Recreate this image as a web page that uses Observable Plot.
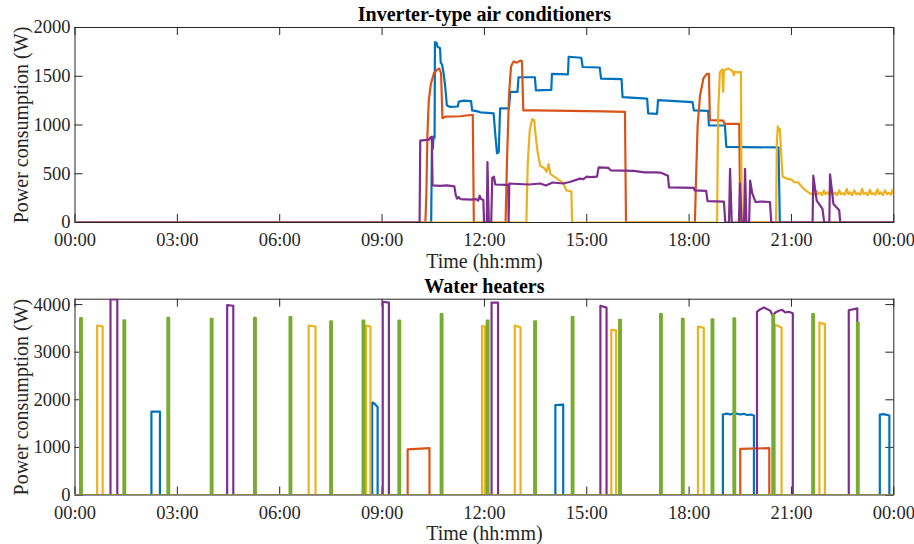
<!DOCTYPE html>
<html><head><meta charset="utf-8">
<script src="https://cdn.jsdelivr.net/npm/d3@7"></script>
<script src="https://cdn.jsdelivr.net/npm/@observablehq/plot@0.6"></script>
<style>
html,body{margin:0;padding:0;background:#fff;}
#chart svg{display:block;}
</style></head><body><div id="chart"></div>
<script>
// ---------- data ----------
const xTicks = [0, 3, 6, 9, 12, 15, 18, 21, 24];
const xTickLabels = ["00:00","03:00","06:00","09:00","12:00","15:00","18:00","21:00","00:00"];
const acTicks = [0, 500, 1000, 1500, 2000];
const whTicks = [0, 1000, 2000, 3000, 4000];
const seriesColors = ["#0072BD", "#D95319", "#EDB120", "#7E2F8E", "#77AC30"];
const titles = ["Inverter-type air conditioners", "Water heaters"];
const xLabel = "Time (hh:mm)";
const yLabel = "Power consumption (W)";

// Air conditioners: [hour, W]
const ac1 = [[0,0],[10.44,0],[10.46,750],[10.49,760],[10.51,880],[10.54,870],[10.55,1849],[10.60,1840],[10.63,1800],[10.70,1790],[10.72,1640],[10.76,1620],[10.80,1540],[10.85,1400],[10.90,1200],[11.0,1185],[11.22,1190],[11.25,1240],[11.40,1250],[11.61,1245],[11.64,1150],[11.8,1140],[11.88,1130],[12.1,1125],[12.27,1120],[12.32,900],[12.37,710],[12.42,720],[12.46,1170],[12.72,1170],[12.76,1340],[12.97,1340],[13.0,1490],[13.48,1490],[13.51,1355],[13.96,1360],[13.98,1525],[14.45,1520],[14.47,1700],[14.84,1690],[14.88,1595],[15.38,1590],[15.42,1475],[16.02,1470],[16.05,1285],[16.77,1270],[16.80,1120],[17.06,1115],[17.09,1255],[18.1,1235],[18.14,1150],[18.56,1145],[18.58,995],[19.05,995],[19.09,775],[20.62,770],[20.66,0],[24,0]];
const ac2 = [[0,0],[10.27,0],[10.30,300],[10.33,900],[10.37,1250],[10.43,1420],[10.52,1530],[10.62,1570],[10.68,1578],[10.73,1530],[10.77,1070],[10.85,1085],[11.3,1090],[11.66,1105],[11.69,0],[12.62,0],[12.66,600],[12.72,1300],[12.78,1600],[12.85,1650],[12.95,1640],[13.05,1660],[13.10,1655],[13.14,1150],[13.5,1150],[14.5,1145],[15.5,1140],[16.12,1135],[16.15,0],[18.17,0],[18.20,400],[18.25,1000],[18.32,1300],[18.42,1480],[18.52,1525],[18.58,1525],[18.61,1050],[19.0,1045],[19.04,1012],[19.47,1012],[19.50,0],[24,0]];
const ac3 = [[0,0],[13.23,0],[13.27,600],[13.33,950],[13.40,1060],[13.46,1050],[13.50,900],[13.56,720],[13.64,580],[13.75,560],[13.82,520],[13.88,600],[13.93,500],[14.0,480],[14.13,450],[14.25,420],[14.32,400],[14.40,330],[14.50,320],[14.55,320],[14.57,0],[18.82,0],[18.85,1100],[18.90,1540],[18.97,1570],[19.0,1340],[19.02,1560],[19.15,1580],[19.28,1550],[19.31,1510],[19.34,1545],[19.45,1540],[19.52,1545],[19.54,0],[20.55,0],[20.57,800],[20.60,985],[20.63,940],[20.66,960],[20.70,700],[20.74,470],[20.87,450],[21.0,440],[21.07,415],[21.2,410],[21.36,345],[21.5,310],[21.56,294],[21.62,300],[21.68,285],[21.74,320],[21.78,290],[21.84,305],[21.9,280],[21.95,330],[22.0,290],[22.06,310],[22.12,285],[22.17,340],[22.22,290],[22.28,305],[22.34,280],[22.4,330],[22.45,290],[22.5,300],[22.56,285],[22.62,345],[22.67,290],[22.72,310],[22.78,280],[22.84,330],[22.9,290],[22.96,300],[23.02,285],[23.07,345],[23.12,290],[23.18,305],[23.24,280],[23.3,335],[23.35,290],[23.4,300],[23.46,285],[23.52,340],[23.57,290],[23.62,310],[23.68,280],[23.74,330],[23.8,290],[23.86,305],[23.92,285],[23.96,335],[24,290]];
const ac4 = [[0,0],[10.10,0],[10.12,840],[10.25,845],[10.38,850],[10.42,875],[10.46,880],[10.48,380],[10.7,375],[10.9,380],[11.12,370],[11.16,280],[11.2,245],[11.25,260],[11.3,240],[11.6,235],[11.75,240],[11.82,225],[11.86,275],[11.9,240],[11.97,230],[11.99,0],[12.07,0],[12.09,620],[12.13,0],[12.2,0],[12.23,460],[12.28,470],[12.32,390],[12.6,385],[12.70,385],[12.71,0],[12.73,400],[13.0,395],[13.3,390],[13.64,400],[13.8,380],[14.0,410],[14.3,400],[14.5,415],[14.8,450],[14.9,445],[15.0,470],[15.1,465],[15.3,470],[15.35,565],[15.64,560],[15.7,535],[16.38,530],[16.7,515],[17.0,515],[17.16,512],[17.38,480],[17.41,360],[18.14,355],[18.16,330],[18.5,325],[18.54,220],[19.02,215],[19.06,0],[19.17,0],[19.20,550],[19.25,0],[19.46,0],[19.49,400],[19.54,0],[19.61,0],[19.64,550],[19.68,0],[19.76,0],[19.79,430],[19.85,300],[19.95,210],[20.1,215],[20.37,210],[20.41,0],[21.62,0],[21.64,480],[21.74,225],[21.91,140],[21.96,0],[22.11,0],[22.13,495],[22.23,190],[22.40,125],[22.43,0],[24,0]];

// Water heaters: list of "on" pulses, each a list of [hour, W] readings while on
const wh1 = [
  [[2.24,1750],[2.49,1750]],
  [[8.71,1940],[8.76,1930],[8.87,1850]],
  [[14.08,1890],[14.31,1900]],
  [[18.99,1690],[19.1,1710],[19.2,1695],[19.35,1715],[19.5,1690],[19.6,1705],[19.7,1680],[19.8,1690],[19.90,1670]],
  [[23.59,1690],[23.7,1700],[23.87,1670]]
];
const wh2 = [
  [[9.75,960],[10.39,985]],
  [[19.50,970],[20.35,985]]
];
const wh3 = [
  [[0.65,3560],[0.81,3540]],
  [[6.85,3560],[7.05,3540]],
  [[8.53,3560],[8.66,3540]],
  [[11.93,3550],[12.02,3540]],
  [[12.89,3560],[13.06,3520]],
  [[15.72,3470],[15.86,3460]],
  [[18.26,3540],[18.43,3510]],
  [[20.51,3580],[20.71,3520]],
  [[21.82,3620],[21.98,3590]]
];
const wh4 = [
  [[1.04,4110],[1.24,4110]],
  [[4.46,3990],[4.64,3975]],
  [[9.02,4060],[9.20,4040]],
  [[12.21,4040],[12.40,4040]],
  [[15.40,3975],[15.58,3935]],
  [[19.99,3849],[20.09,3904],[20.19,3939],[20.29,3904],[20.38,3869],[20.45,3764],[20.53,3834],[20.63,3869],[20.73,3890],[20.82,3834],[20.92,3849],[21.04,3819]],
  [[22.68,3880],[22.93,3920]]
];
const wh5 = [
  [[0.15,3715],[0.20,3715]],
  [[1.42,3667],[1.47,3667]],
  [[2.71,3722],[2.76,3722]],
  [[3.98,3700],[4.03,3700]],
  [[5.25,3722],[5.30,3722]],
  [[6.29,3737],[6.34,3737]],
  [[7.48,3650],[7.53,3650]],
  [[8.43,3665],[8.48,3665]],
  [[9.48,3665],[9.53,3665]],
  [[10.72,3800],[10.77,3800]],
  [[12.07,3665],[12.12,3665]],
  [[13.46,3650],[13.51,3650]],
  [[14.56,3737],[14.61,3737]],
  [[15.95,3680],[16.00,3680]],
  [[17.15,3800],[17.20,3800]],
  [[17.79,3700],[17.84,3700]],
  [[18.66,3690],[18.71,3690]],
  [[19.30,3710],[19.35,3710]],
  [[20.44,3785],[20.49,3785]],
  [[21.61,3800],[21.66,3800]],
  [[22.92,3620],[22.97,3620]]
];

// ---------- build ----------
function pulsesToLine(pulses) {
  const pts = [[0, 0]];
  for (const p of pulses) {
    pts.push([p[0][0], 0], ...p, [p[p.length - 1][0], 0]);
  }
  pts.push([24, 0]);
  return pts;
}

const axisColor = "#262626";
const font = "'Liberation Serif', 'Times New Roman', Times, serif";

function panel({title, series, yDomain, yTicks, marginTop, marginBottom}) {
  const W = 914, H = 272, mL = 74.5, mR = 20.7;
  const pw = W - mL - mR, ph = H - marginTop - marginBottom;
  const tl = 8;
  return Plot.plot({
    width: W, height: H,
    marginLeft: mL, marginRight: mR, marginTop, marginBottom,
    style: {fontFamily: font, fontSize: "18.5px", color: axisColor, background: "#fff", overflow: "visible"},
    x: {type: "linear", domain: [0, 24], axis: null},
    y: {type: "linear", domain: yDomain, axis: null},
    marks: [
      Plot.frame({stroke: axisColor, strokeWidth: 1}),
      Plot.tickX(xTicks, {x: d => d, insetTop: ph - tl, stroke: axisColor}),
      Plot.tickX(xTicks, {x: d => d, insetBottom: ph - tl, stroke: axisColor}),
      Plot.tickY(yTicks, {y: d => d, insetRight: pw - tl, stroke: axisColor}),
      Plot.tickY(yTicks, {y: d => d, insetLeft: pw - tl, stroke: axisColor}),
      Plot.axisX(xTicks, {anchor: "bottom", tickSize: 0, tickPadding: 10.5, tickFormat: d => xTickLabels[xTicks.indexOf(d)], label: null, fontSize: 18.5}),
      Plot.axisY(yTicks, {anchor: "left", tickSize: 0, tickPadding: 4.5, tickFormat: d => String(d), label: null, fontSize: 18.5}),
      ...series.map((s, i) => Plot.line(s, {x: d => d[0], y: d => d[1], stroke: seriesColors[i], strokeWidth: 2.2, clip: true})),
      Plot.text([title], {text: d => d, frameAnchor: "top", dy: 20 - marginTop, lineAnchor: "bottom", textAnchor: "middle", fontWeight: "bold", fontSize: 20, fill: "#000"}),
      Plot.text([xLabel], {text: d => d, frameAnchor: "bottom", dy: 45, lineAnchor: "bottom", textAnchor: "middle", fontSize: 20, fill: axisColor}),
      Plot.text([yLabel], {text: d => d, frameAnchor: "left", dx: -47.5, rotate: -90, lineAnchor: "bottom", textAnchor: "middle", fontSize: 20, fill: axisColor})
    ]
  });
}

const chart = document.getElementById("chart");
chart.append(panel({
  title: titles[0],
  series: [ac1, ac2, ac3, ac4],
  yDomain: [0, 2000], yTicks: acTicks,
  marginTop: 27, marginBottom: 50
}));
chart.append(panel({
  title: titles[1],
  series: [wh1, wh2, wh3, wh4, wh5].map(pulsesToLine),
  yDomain: [0, 4113], yTicks: whTicks,
  marginTop: 26.7, marginBottom: 49.5
}));
</script></body></html>
